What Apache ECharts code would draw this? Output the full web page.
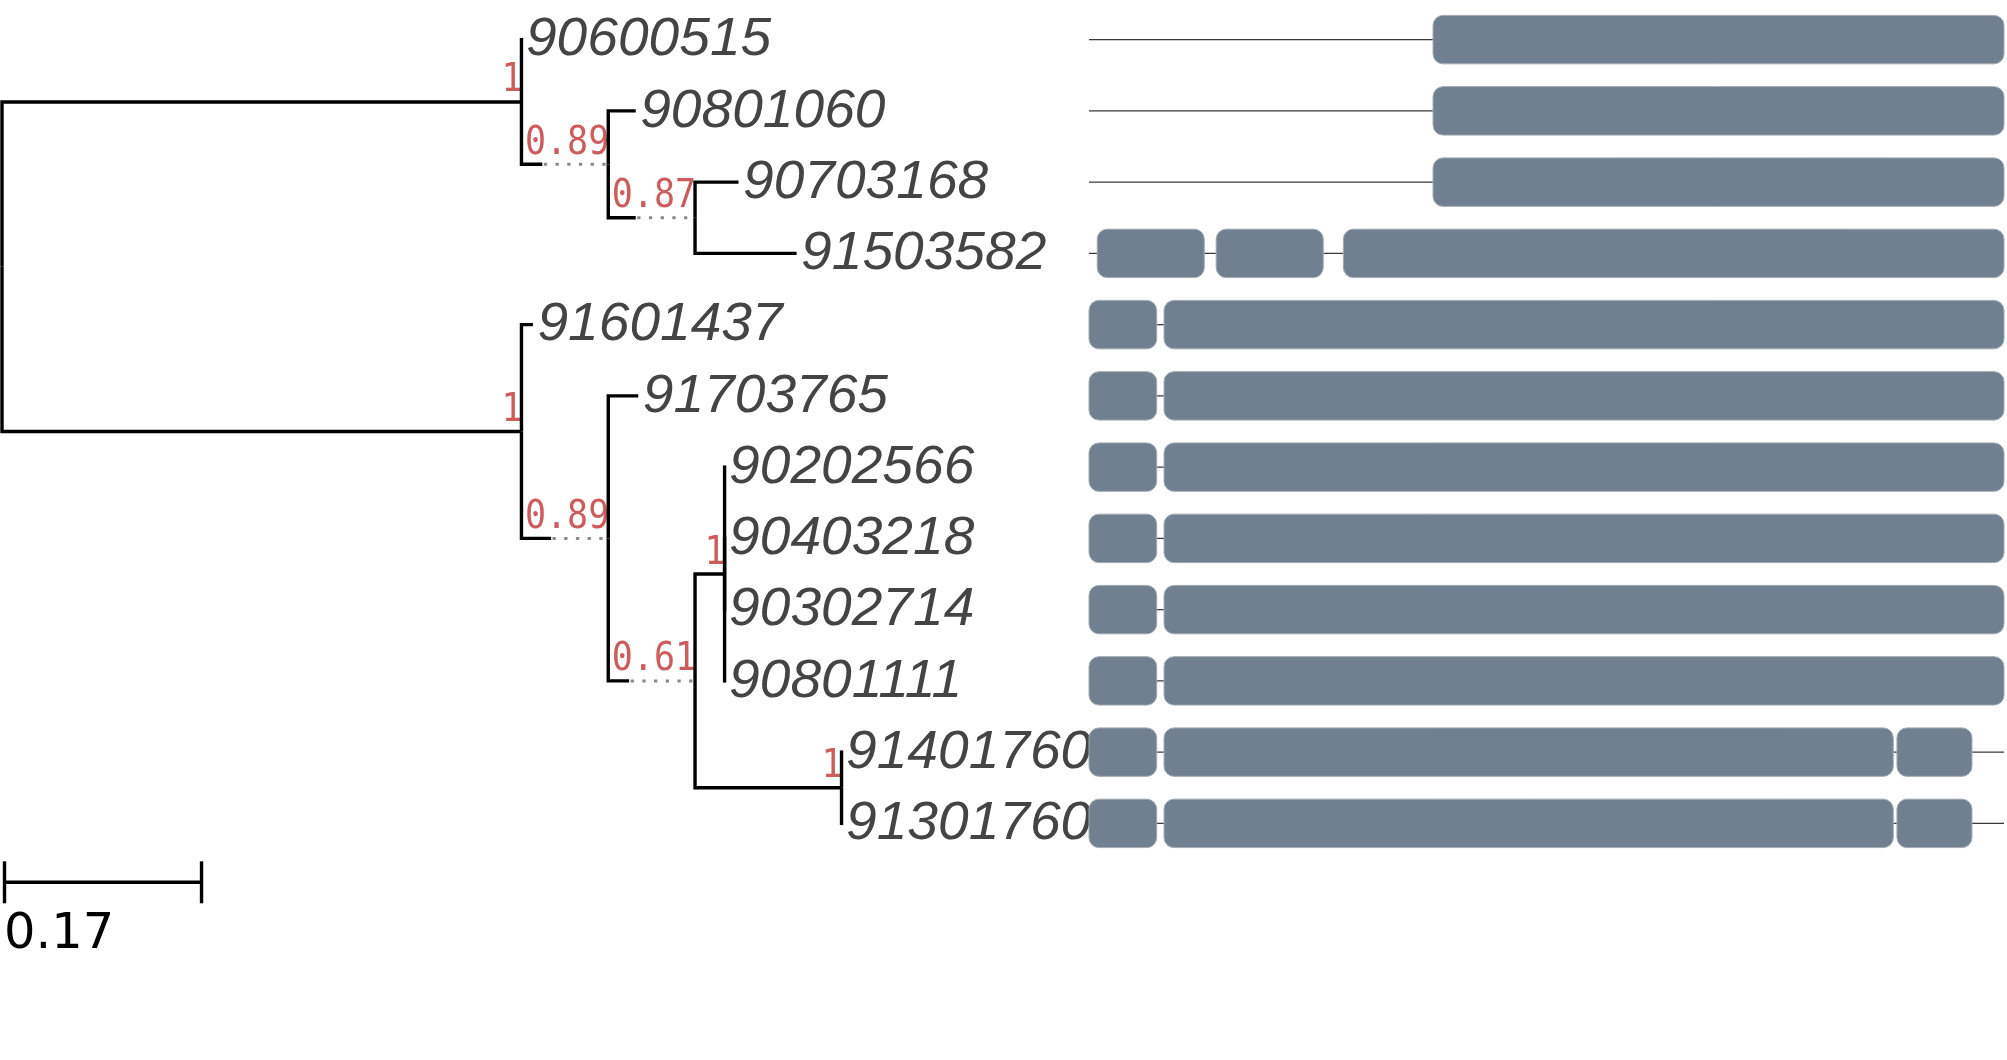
<!DOCTYPE html>
<html>
<head>
<meta charset="utf-8">
<script src="https://cdn.jsdelivr.net/npm/echarts@6/dist/echarts.min.js"></script>
<style>
html,body{margin:0;padding:0;background:#fff;}
#main{width:2007px;height:1060px;}
</style>
</head>
<body>
<div id="main"></div>
<script>
// ---------------- DATA ----------------
// Tree: each node with its parent, branch length and support value (children listed in drawing order)
const nodeNames   = ['A','90600515','B1','90801060','C','90703168','91503582','B','91601437','D','91703765','E','F','90202566','90403218','90302714','90801111','G','91401760','91301760'];
const nodeParents = ['root','A','A','B1','B1','C','C','root','B','B','D','D','E','F','F','F','F','E','G','G'];
const branchLengths = [0.4482,0,0.018,0.0237,0.0237,0.0375,0.0876,0.4482,0.0099,0.0255,0.0259,0.018,0.0255,0,0,0,0,0.1264,0,0];
const supportValues = ['1',null,'0.89',null,'0.87',null,null,'1',null,'0.89',null,'0.61','1',null,null,null,null,'1',null,null];
const scaleBarLength = 0.17;
const scaleBarLabel = '0.17';

// Gene structure (one row per leaf, in leaf order)
const geneRows = ['90600515','90801060','90703168','91503582','91601437','91703765','90202566','90403218','90302714','90801111','91401760','91301760'];
const geneSpans = [[0,1000],[0,1000],[0,1000],[0,1000],[0,1000],[0,1000],[0,1000],[0,1000],[0,1000],[0,1000],[0,1000],[0,1000]];
const exonStarts = [[376],[376],[376],[9,139,278],[0,82],[0,82],[0,82],[0,82],[0,82],[0,82],[0,82,883],[0,82,883]];
const exonEnds   = [[1000],[1000],[1000],[126,256,1000],[74,1000],[74,1000],[74,1000],[74,1000],[74,1000],[74,1000],[74,879,965],[74,879,965]];

// ---------------- LAYOUT ----------------
const TREE_LEFT = 2, TREE_WIDTH = 1159;      // 1 branch-length unit = 1159 px
const GRID_TOP = 4, GRID_HEIGHT = 855;
const SUPPORT_FONT = '35px "DejaVu Sans Mono"';
const measureCtx = document.createElement('canvas').getContext('2d');
function textWidth(s, font) { measureCtx.font = font; return measureCtx.measureText(s).width; }

const childrenOf = {};
nodeNames.forEach((n, i) => { (childrenOf[nodeParents[i]] = childrenOf[nodeParents[i]] || []).push(i); });
const info = { root: { x: 0 } };
let leafCounter = 0;
function place(name) {
  const kids = childrenOf[name] || [];
  if (!kids.length) { info[name].y = ++leafCounter; return; }
  kids.forEach(i => {
    const px = info[name].x;
    const bl = branchLengths[i];
    const ext = supportValues[i] ? (textWidth(supportValues[i], SUPPORT_FONT) + 2.5) / TREE_WIDTH : 0;
    info[nodeNames[i]] = { x: px + Math.max(bl, ext), blackEnd: px + bl, idx: i };
    place(nodeNames[i]);
  });
  info[name].y = (info[nodeNames[kids[0]]].y + info[nodeNames[kids[kids.length - 1]]].y) / 2;
}
place('root');
const rowCount = leafCounter;

const treeData = nodeNames.map((n, i) => {
  const p = info[nodeParents[i]], c = info[n];
  return [p.x, p.y, c.blackEnd, c.x, c.y, i];
});

const backboneData = geneSpans.map((s, r) => [r + 1, s[0], s[1]]);
const exonData = [];
exonStarts.forEach((starts, r) => starts.forEach((s, k) => exonData.push([r + 1, s, exonEnds[r][k]])));

// ---------------- CHART ----------------
const chart = echarts.init(document.getElementById('main'), null, { renderer: 'canvas' });
chart.setOption({
  animation: false,
  backgroundColor: '#ffffff',
  grid: [
    { left: TREE_LEFT, top: GRID_TOP, width: TREE_WIDTH, height: GRID_HEIGHT },
    { left: 1089, top: GRID_TOP, width: 915, height: GRID_HEIGHT }
  ],
  xAxis: [
    { type: 'value', gridIndex: 0, min: 0, max: 1, show: false },
    { type: 'value', gridIndex: 1, min: 0, max: 1000, show: false }
  ],
  yAxis: [
    { type: 'value', gridIndex: 0, min: 0.5, max: rowCount + 0.5, inverse: true, show: false },
    { type: 'value', gridIndex: 1, min: 0.5, max: rowCount + 0.5, inverse: true, show: false }
  ],
  series: [
    {
      type: 'custom', xAxisIndex: 0, yAxisIndex: 0, clip: false, silent: true,
      data: treeData,
      renderItem(params, api) {
        const i = api.value(5);
        const p = api.coord([api.value(0), api.value(1)]);
        const b = api.coord([api.value(2), api.value(4)]);
        const n = api.coord([api.value(3), api.value(4)]);
        const isLeaf = !childrenOf[nodeNames[i]];
        const yEnd = (b[0] - p[0] < 0.5) ? b[1] + (b[1] > p[1] ? 1.7 : -1.7) : b[1];
        const els = [{
          type: 'polyline',
          shape: { points: (b[0] - p[0] < 0.5) ? [p, [p[0], yEnd]] : [p, [p[0], b[1]], b] },
          style: { stroke: '#000', lineWidth: 3.4, fill: null, lineJoin: 'miter', lineCap: 'butt' }
        }];
        if (n[0] - b[0] > 0.5) {
          els.push({ type: 'line', shape: { x1: b[0] + 1.5, y1: b[1], x2: n[0], y2: n[1] },
            style: { stroke: '#8a8a8a', lineWidth: 3, lineDash: [3.3, 8.4] } });
        }
        if (supportValues[i]) {
          els.push({ type: 'text', x: n[0] + 1, y: n[1] - 20.5, scaleY: 1.1,
            style: { text: supportValues[i], fill: '#cd5c5c', fontSize: 35, fontFamily: 'DejaVu Sans Mono',
              align: 'right', verticalAlign: 'middle' } });
        }
        if (isLeaf) {
          els.push({ type: 'text', x: n[0] + 4.5, y: n[1] + 1, scaleX: 1.04,
            style: { text: nodeNames[i], fill: '#444444', fontSize: 53, fontStyle: 'italic',
              fontFamily: '"Liberation Sans", Arial, sans-serif', align: 'left', verticalAlign: 'middle' } });
        }
        return { type: 'group', children: els };
      }
    },
    {
      // scale bar
      type: 'custom', xAxisIndex: 0, yAxisIndex: 0, clip: false, silent: true,
      data: [[0, scaleBarLength]],
      renderItem(params, api) {
        const a = api.coord([api.value(0), rowCount + 0.5]);
        const c = api.coord([api.value(1), rowCount + 0.5]);
        const x0 = a[0] + 2.5, x1 = c[0] + 2.5, y = a[1] + 23.3;
        const st = { stroke: '#000', lineWidth: 3.4 };
        return { type: 'group', children: [
          { type: 'line', shape: { x1: x0, y1: y, x2: x1, y2: y }, style: st },
          { type: 'line', shape: { x1: x0, y1: y - 21, x2: x0, y2: y + 21 }, style: st },
          { type: 'line', shape: { x1: x1, y1: y - 21, x2: x1, y2: y + 21 }, style: st },
          { type: 'text', x: x0 - 0.5, y: y + 52.5,
            style: { text: scaleBarLabel, fill: '#000', fontSize: 49.5, fontFamily: '"DejaVu Sans"',
              align: 'left', verticalAlign: 'middle' } }
        ] };
      }
    },
    {
      // gene backbones
      type: 'custom', xAxisIndex: 1, yAxisIndex: 1, clip: false, silent: true,
      data: backboneData,
      renderItem(params, api) {
        const a = api.coord([api.value(1), api.value(0)]);
        const c = api.coord([api.value(2), api.value(0)]);
        return { type: 'line', shape: { x1: a[0], y1: a[1], x2: c[0], y2: c[1] },
          style: { stroke: '#3a3a3a', lineWidth: 1.3 } };
      }
    },
    {
      // exons
      type: 'custom', xAxisIndex: 1, yAxisIndex: 1, clip: false, silent: true,
      data: exonData,
      renderItem(params, api) {
        const a = api.coord([api.value(1), api.value(0)]);
        const c = api.coord([api.value(2), api.value(0)]);
        const h = api.size([0, 1])[1] * 0.68;
        return { type: 'rect', shape: { x: a[0], y: a[1] - h / 2, width: c[0] - a[0], height: h, r: 10 },
          style: { fill: '#708090', stroke: '#a2aab2', lineWidth: 1 } };
      }
    }
  ]
});
</script>
</body>
</html>
